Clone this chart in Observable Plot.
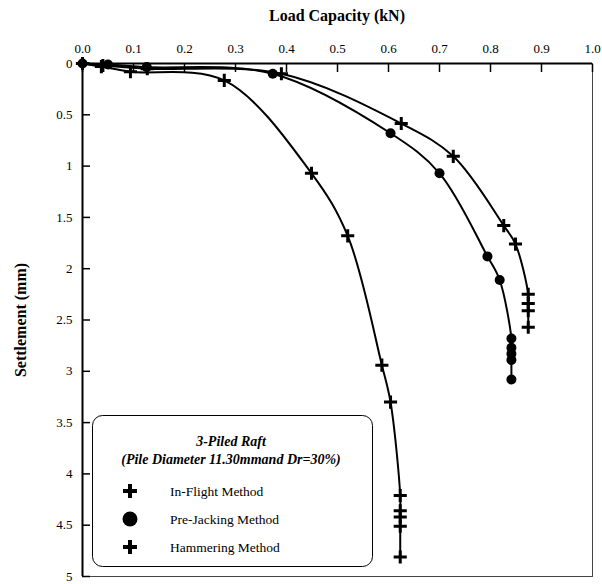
<!DOCTYPE html>
<html>
<head>
<meta charset="utf-8">
<script src="https://cdn.jsdelivr.net/npm/d3@7"></script>
<script src="https://cdn.jsdelivr.net/npm/@observablehq/plot@0.6"></script>
<style>
  body { margin: 0; background: white; }
  #chart { position: relative; width: 602px; height: 584px; }
  #chart svg { display: block; }
</style>
</head>
<body>
<div id="chart"></div>
<script>
// Tick values
const xTicks = [0, 0.1, 0.2, 0.3, 0.4, 0.5, 0.6, 0.7, 0.8, 0.9, 1.0];
const yTicks = [0, 0.5, 1, 1.5, 2, 2.5, 3, 3.5, 4, 4.5, 5];

// Texts
const xTitle = "Load Capacity (kN)";
const yTitle = "Settlement (mm)";
const legendTitle1 = "3-Piled Raft";
const legendTitle2 = "(Pile Diameter 11.30mmand Dr=30%)";
const seriesNames = ["In-Flight Method", "Pre-Jacking Method", "Hammering Method"];

// In-Flight Method (crosses)
const inFlightLoad   = [0, 0.04, 0.127, 0.39, 0.625, 0.727, 0.826, 0.849, 0.874, 0.874, 0.874, 0.874];
const inFlightSettle = [0, 0.02, 0.05, 0.10, 0.585, 0.905, 1.58, 1.76, 2.25, 2.34, 2.41, 2.57];

// Pre-Jacking Method (dots)
const jackLoad   = [0, 0.05, 0.126, 0.373, 0.604, 0.70, 0.794, 0.818, 0.841, 0.841, 0.841, 0.841, 0.841];
const jackSettle = [0, 0.01, 0.035, 0.10, 0.68, 1.07, 1.88, 2.11, 2.68, 2.77, 2.83, 2.89, 3.08];

// Hammering Method (crosses)
const hammerLoad   = [0, 0.037, 0.094, 0.278, 0.449, 0.52, 0.587, 0.604, 0.623, 0.623, 0.623, 0.623, 0.623];
const hammerSettle = [0, 0.03, 0.08, 0.165, 1.07, 1.68, 2.94, 3.30, 4.21, 4.36, 4.42, 4.51, 4.81];

const toRows = (name, xs, ys) => xs.map((x, i) => ({series: name, load: x, settle: ys[i]}));
const inFlight = toRows(seriesNames[0], inFlightLoad, inFlightSettle);
const jacking = toRows(seriesNames[1], jackLoad, jackSettle);
const hammer = toRows(seriesNames[2], hammerLoad, hammerSettle);

const font = "Liberation Serif, Times New Roman, serif";

const plot = Plot.plot({
  width: 602,
  height: 584,
  marginTop: 63,
  marginLeft: 82,
  marginRight: 10,
  marginBottom: 8,
  style: {fontFamily: font, fontSize: "13px", color: "black", background: "white"},
  x: {domain: [0, 1]},
  y: {domain: [0, 5], reverse: true},
  marks: [
    Plot.frame({stroke: "#444", strokeWidth: 1}),
    Plot.axisX(xTicks, {anchor: "top", tickSize: -8, tickPadding: 19, tickFormat: d3.format(".1f"),
      label: null, strokeWidth: 1.5}),
    Plot.axisY(yTicks, {anchor: "left", tickSize: -8, tickPadding: 18, tickFormat: d => String(d),
      label: null, strokeWidth: 1.5}),
    Plot.ruleX([0], {stroke: "black", strokeWidth: 2}),
    Plot.ruleY([0], {stroke: "black", strokeWidth: 2}),
    Plot.line(inFlight, {x: "load", y: "settle", curve: "catmull-rom", stroke: "black", strokeWidth: 2}),
    Plot.line(jacking, {x: "load", y: "settle", curve: "catmull-rom", stroke: "black", strokeWidth: 2}),
    Plot.line(hammer, {x: "load", y: "settle", curve: "catmull-rom", stroke: "black", strokeWidth: 2}),
    Plot.dot(inFlight, {x: "load", y: "settle", symbol: "plus", r: 4.3, stroke: "black", strokeWidth: 3}),
    Plot.dot(hammer, {x: "load", y: "settle", symbol: "plus", r: 4.3, stroke: "black", strokeWidth: 3}),
    Plot.dot(jacking, {x: "load", y: "settle", symbol: "circle", r: 5, fill: "black"})
  ]
});

document.getElementById("chart").appendChild(plot);

const svg = d3.select(plot);

// Axis titles
svg.append("text").attr("x", 337).attr("y", 21).attr("text-anchor", "middle")
  .attr("font-family", font).attr("font-weight", "bold").attr("font-size", 16).attr("fill", "black")
  .text(xTitle);
svg.append("text").attr("transform", "translate(26,320) rotate(-90)").attr("text-anchor", "middle")
  .attr("font-family", font).attr("font-weight", "bold").attr("font-size", 16).attr("fill", "black")
  .text(yTitle);

// Legend drawn inside the plot area
const lg = svg.append("g").attr("font-family", font).attr("fill", "black");
lg.append("rect").attr("x", 92.5).attr("y", 415.5).attr("width", 280).attr("height", 151)
  .attr("rx", 10).attr("fill", "white").attr("stroke", "black").attr("stroke-width", 1);
lg.append("text").attr("x", 231).attr("y", 446).attr("text-anchor", "middle")
  .attr("font-weight", "bold").attr("font-style", "italic").attr("font-size", 14).text(legendTitle1);
lg.append("text").attr("x", 231).attr("y", 464).attr("text-anchor", "middle")
  .attr("font-weight", "bold").attr("font-style", "italic").attr("font-size", 14).text(legendTitle2);
const symbols = ["plus", "circle", "plus"];
seriesNames.forEach((name, i) => {
  const cy = 491 + i * 28;
  if (symbols[i] === "plus") {
    lg.append("path").attr("d", `M${130 - 7},${cy}H${130 + 7}M130,${cy - 7}V${cy + 7}`)
      .attr("stroke", "black").attr("stroke-width", 4).attr("fill", "none");
  } else {
    lg.append("circle").attr("cx", 130).attr("cy", cy).attr("r", 7.5).attr("fill", "black");
  }
  lg.append("text").attr("x", 170).attr("y", cy + 5).attr("text-anchor", "start")
    .attr("font-size", 13.5).text(name);
});
</script>
</body>
</html>
